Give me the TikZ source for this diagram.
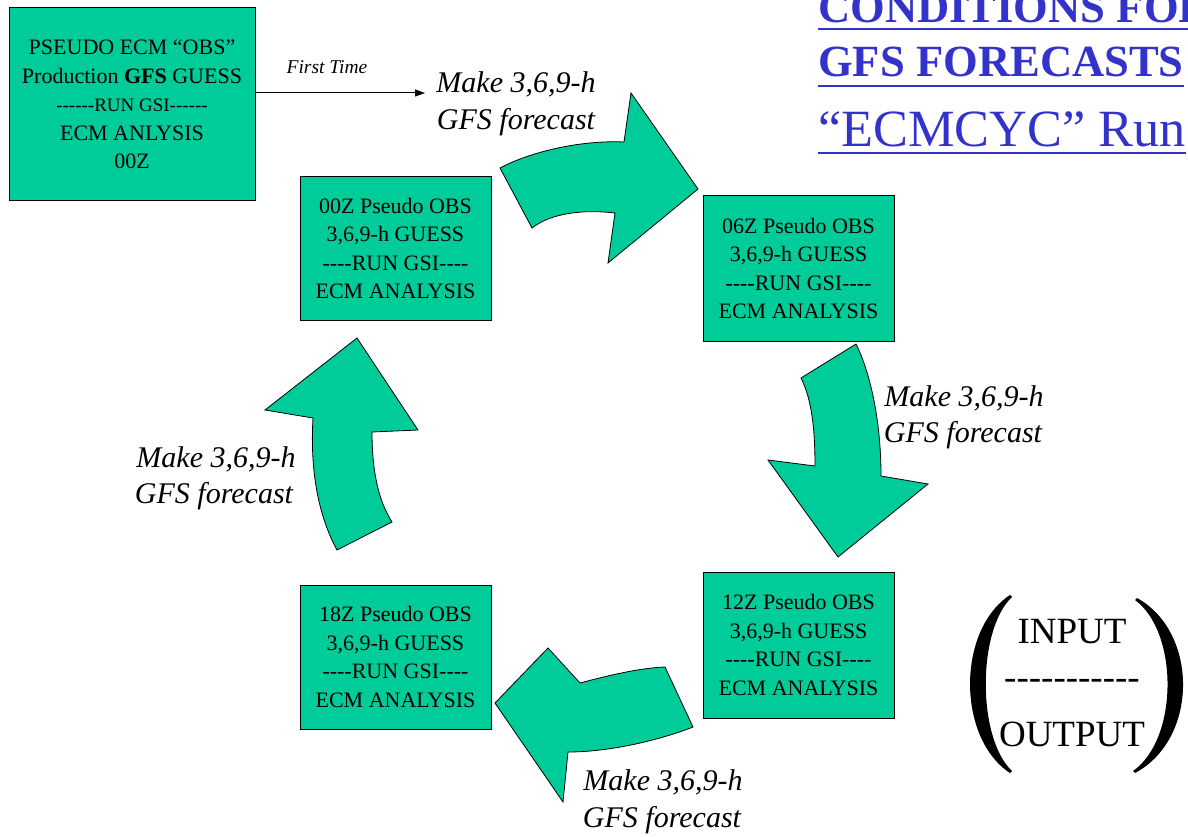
\documentclass[tikz,border=0pt]{standalone}
\usepackage{fontspec}
\newfontfamily\tnr{Liberation Serif}
\usetikzlibrary{arrows.meta}
\definecolor{boxgreen}{RGB}{0,204,153}
\definecolor{titleblue}{RGB}{51,51,204}
\newcommand{\myboxfont}{\tnr\fontsize{22}{28.5}\selectfont}
\newcommand{\mylabfont}{\tnr\fontsize{30}{36}\selectfont\itshape}
\begin{document}
\begin{tikzpicture}[x=1pt,y=-1pt,
  box/.style={draw=black, line width=1pt, fill=boxgreen, inner sep=0pt, align=center, font=\myboxfont},
  blk/.style={draw=black, line width=0.8pt, fill=boxgreen, line join=miter},
  lab/.style={font=\mylabfont, inner sep=0pt, anchor=base},
  ttl/.style={text=titleblue, inner sep=0pt, anchor=base west},
  ul/.style={draw=titleblue, line width=2.5pt},
  paren/.style={fill=black, draw=none},
  io/.style={font=\tnr\fontsize{37}{40}\selectfont, inner sep=0pt, anchor=base}]
\useasboundingbox (0,0) rectangle (1188,837);
\clip (0,0) rectangle (1188,837);

% boxes
\node[box, minimum width=246pt, minimum height=193pt] (tl) at (132,104.5)
  {PSEUDO ECM “OBS”\\Production \textbf{GFS} GUESS\\{\fontsize{19}{28.5}\selectfont ------RUN GSI------}\\ECM ANLYSIS\\00Z};
\node[box, minimum width=191pt, minimum height=143pt] (b00) at (395.5,248.5)
  {00Z Pseudo OBS\\3,6,9-h GUESS\\----RUN GSI----\\ECM ANALYSIS};
\node[box, minimum width=191pt, minimum height=145pt] (b06) at (798.5,268.5)
  {06Z Pseudo OBS\\3,6,9-h GUESS\\----RUN GSI----\\ECM ANALYSIS};
\node[box, minimum width=191pt, minimum height=146pt] (b12) at (798.5,645)
  {12Z Pseudo OBS\\3,6,9-h GUESS\\----RUN GSI----\\ECM ANALYSIS};
\node[box, minimum width=191pt, minimum height=144pt] (b18) at (395.5,657)
  {18Z Pseudo OBS\\3,6,9-h GUESS\\----RUN GSI----\\ECM ANALYSIS};

% first time arrow
\coordinate (ftend) at (425,93);
\draw[line width=1pt, -{Triangle[length=10pt,width=7pt]}] (tl.east |- ftend) -- (ftend);
\node[font=\tnr\fontsize{19.5}{22}\selectfont\itshape, inner sep=0pt, anchor=base] (ft) at (327,74) {First Time};

% curved block arrows
\draw[blk] (500,168) .. controls (530,152) and (580,140) .. (624,142) -- (631,93) -- (698,189) -- (608,263) -- (615,213)
  .. controls (580,209) and (550,214) .. (532,228) -- cycle;
\draw[blk] (801,378) -- (856,344) .. controls (870,372) and (881,420) .. (881,476) -- (928,484) -- (838,557) -- (768,460) -- (815,466)
  .. controls (815,430) and (812,400) .. (801,378) -- cycle;
\draw[blk] (693,727) .. controls (660,740) and (610,752) .. (568,752) -- (563,802) -- (495,703) -- (548,648) -- (580,683)
  .. controls (610,675) and (640,668) .. (665,667) -- cycle;
\draw[blk] (337,550) .. controls (318,515) and (310,470) .. (313,418) -- (265,410) -- (357,338) -- (418,430) -- (372,432)
  .. controls (372,470) and (378,500) .. (392,522) -- cycle;

% labels
\node[lab] (l1a) at (516,93) {Make 3,6,9-h};
\node[lab] (l1b) at (516,130) {GFS forecast};
\node[lab] (l2a) at (964,406) {Make 3,6,9-h};
\node[lab] (l2b) at (963,442) {GFS forecast};
\node[lab] (l3a) at (663,790) {Make 3,6,9-h};
\node[lab] (l3b) at (662,827) {GFS forecast};
\node[lab] (l4a) at (216,467) {Make 3,6,9-h};
\node[lab] (l4b) at (214,503) {GFS forecast};

% title
\node[ttl, font=\tnr\fontsize{44.6}{48}\selectfont\bfseries] (t1) at (818,22.5) {CONDITIONS FOR};
\node[ttl, font=\tnr\fontsize{44.6}{48}\selectfont\bfseries] (t2) at (818,77) {GFS FORECASTS};
\node[ttl, font=\tnr\fontsize{52.3}{55}\selectfont] (t3) at (818,147) {“ECMCYC” Run};
\draw[ul] ([yshift=-6.5pt]t1.base west) -- ([yshift=-6.5pt,xshift=40pt]t1.base east);
\draw[ul] ([yshift=-9pt]t2.base west) -- ([yshift=-9pt]t2.base east);
\draw[ul, line width=2pt] ([yshift=-6pt]t3.base west) -- ([yshift=-6pt]t3.base east);

% input / output
\node[io] (in) at (1072,643) {INPUT};
\node[io] (dash) at (1072,689) {-----------};
\node[io] (out) at (1072,746) {OUTPUT};
\fill[paren] (1010,595) .. controls (956.7,630) and (956.7,738) .. (1010,773) -- (1012,771)
  .. controls (977,738) and (977,630) .. (1012,597) -- cycle;
\fill[paren] (1137,598) .. controls (1198.7,632) and (1198.7,739) .. (1135,773) -- (1133,771)
  .. controls (1178.7,739) and (1178.7,632) .. (1135,600) -- cycle;
\end{tikzpicture}
\end{document}
